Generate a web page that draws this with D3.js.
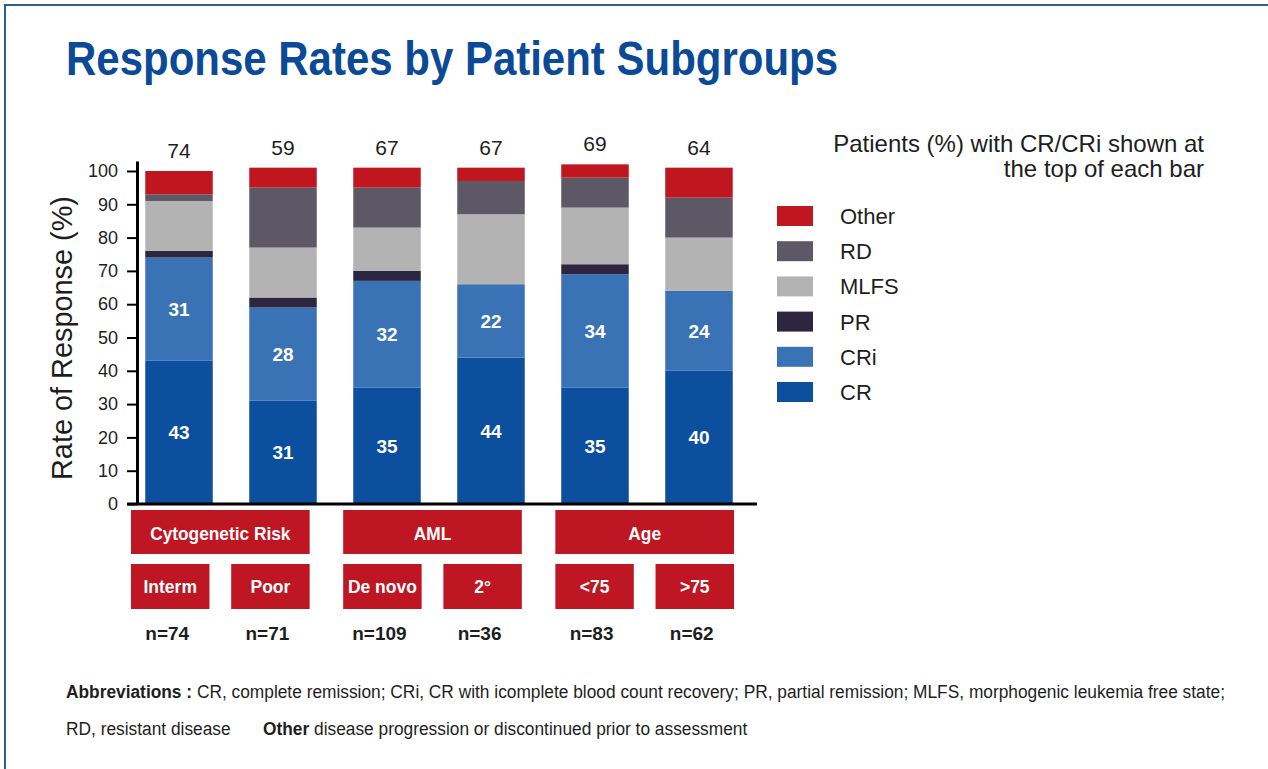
<!DOCTYPE html>
<html>
<head>
<meta charset="utf-8">
<script src="https://cdn.jsdelivr.net/npm/d3@7"></script>
<style>
    body { margin: 0; background: #fff; }
    svg { display: block; font-family: "Liberation Sans", Arial, sans-serif; }
</style>
</head>
<body>
<svg id="chart" width="1268" height="769"></svg>
<script>
// ---- data ----
const groups = ['Cytogenetic Risk', 'AML', 'Age'];
const subgroups = ['Interm', 'Poor', 'De novo', '2°', '<75', '>75'];
const groupOf = ['Cytogenetic Risk', 'Cytogenetic Risk', 'AML', 'AML', 'Age', 'Age'];
const nLabels = ['n=74', 'n=71', 'n=109', 'n=36', 'n=83', 'n=62'];
const crCriTotals = [74, 59, 67, 67, 69, 64];

const responseKeys = ['CR', 'CRi', 'PR', 'MLFS', 'RD', 'Other'];
const crValues = [43, 31, 35, 44, 35, 40];
const criValues = [31, 28, 32, 22, 34, 24];
const prValues = [2, 3, 3, 0, 3, 0];
const mlfsValues = [15, 15, 13, 21, 17, 16];
const rdValues = [2, 18, 12, 10, 9, 12];
const otherValues = [7, 6, 6, 4, 4, 9];
const responseColors = ['#0b4f9e', '#3a72b6', '#2d2641', '#b3b3b3', '#5d5866', '#c0161f'];

const yTicks = [0, 10, 20, 30, 40, 50, 60, 70, 80, 90, 100];
const legendKeys = ['Other', 'RD', 'MLFS', 'PR', 'CRi', 'CR'];
const noteLines = ['Patients (%) with CR/CRi shown at', 'the top of each bar'];

// ---- setup ----
const svg = d3.select('#chart');
const boxRed = '#be1622';
const ink = '#1e1e1e';

// frame lines (top + left only)
svg.append('line').attr('x1', 4).attr('x2', 1268).attr('y1', 5).attr('y2', 5)
    .attr('stroke', '#2c5f8c').attr('stroke-width', 2);
svg.append('line').attr('x1', 5).attr('x2', 5).attr('y1', 4).attr('y2', 769)
    .attr('stroke', '#2c5f8c').attr('stroke-width', 2);

svg.append('text')
    .attr('x', 66).attr('y', 75)
    .attr('fill', '#0b4a96')
    .attr('font-size', 48).attr('font-weight', 'bold')
    .attr('textLength', 772).attr('lengthAdjust', 'spacingAndGlyphs')
    .text('Response Rates by Patient Subgroups');

const rows = subgroups.map((s, i) => ({
    sub: s,
    CR: crValues[i],
    CRi: criValues[i],
    PR: prValues[i],
    MLFS: mlfsValues[i],
    RD: rdValues[i],
    Other: otherValues[i],
}));
const stacked = d3.stack().keys(responseKeys)(rows);
const color = d3.scaleOrdinal(responseKeys, responseColors);

const y = d3.scaleLinear().domain([0, 103]).range([504, 161]);

// bar positions: group band + point inside the group
const xBarGroup = d3.scaleBand(groups, [145, 733]).paddingInner(0.173);
const xBarInner = d3.scalePoint([0, 1], [0, xBarGroup.bandwidth()]).padding(0.327);
const barWidth = 67.5;
const barCenter = i => xBarGroup(groupOf[i]) + xBarInner(i % 2);

// label boxes
const xBox = d3.scaleBand(groups, [131, 734]).paddingInner(0.158);
const xBoxInner = d3.scaleBand([0, 1], [0, xBox.bandwidth()]).paddingInner(0.217);
const boxLeft = i => xBox(groupOf[i]) + xBoxInner(i % 2);

// ---- bars ----
const layers = svg.append('g')
    .selectAll('g')
    .data(stacked)
    .join('g')
    .attr('fill', d => color(d.key));

layers.selectAll('rect')
    .data(d => d)
    .join('rect')
    .attr('x', (d, i) => barCenter(i) - barWidth / 2)
    .attr('y', d => y(d[1]))
    .attr('width', barWidth)
    .attr('height', d => y(d[0]) - y(d[1]));

// white value labels inside CR and CRi
stacked.filter(s => s.key === 'CR' || s.key === 'CRi').forEach(s => {
    svg.append('g')
        .selectAll('text')
        .data(s)
        .join('text')
        .attr('x', (d, i) => barCenter(i))
        .attr('y', d => y((d[0] + d[1]) / 2))
        .attr('dy', '0.36em')
        .attr('text-anchor', 'middle')
        .attr('fill', '#fff')
        .attr('font-size', 19).attr('font-weight', 'bold')
        .text(d => d.data[s.key]);
});

// CR/CRi totals above bars
const topOf = stacked[stacked.length - 1];
svg.append('g')
    .selectAll('text')
    .data(crCriTotals)
    .join('text')
    .attr('x', (d, i) => barCenter(i))
    .attr('y', (d, i) => y(topOf[i][1]) - 13)
    .attr('text-anchor', 'middle')
    .attr('fill', ink)
    .attr('font-size', 21)
    .text(d => d);

// ---- axes ----
const yAxis = svg.append('g')
    .attr('transform', 'translate(137, 0)')
    .call(d3.axisLeft(y).tickValues(yTicks).tickSize(10).tickSizeOuter(0).tickPadding(9));
yAxis.select('.domain').attr('stroke', '#000').attr('stroke-width', 3);
yAxis.selectAll('.tick line').attr('stroke', '#000').attr('stroke-width', 2);
yAxis.selectAll('.tick text')
    .attr('font-size', 18)
    .attr('font-family', '"Liberation Sans", Arial, sans-serif')
    .attr('fill', ink);

svg.append('line')
    .attr('x1', 127).attr('x2', 757)
    .attr('y1', y(0)).attr('y2', y(0))
    .attr('stroke', '#000').attr('stroke-width', 3);

svg.append('text')
    .attr('transform', 'translate(72, 338) rotate(-90)')
    .attr('text-anchor', 'middle')
    .attr('fill', ink)
    .attr('font-size', 29)
    .attr('textLength', 284).attr('lengthAdjust', 'spacingAndGlyphs')
    .text('Rate of Response (%)');

// ---- category boxes ----
const condense = (sel, k) => sel.each(function () {
    const w = this.getComputedTextLength();
    d3.select(this).attr('textLength', w * k).attr('lengthAdjust', 'spacingAndGlyphs');
});

const groupBoxes = svg.append('g')
    .selectAll('g')
    .data(groups)
    .join('g')
    .attr('transform', d => `translate(${xBox(d)}, 510)`);
groupBoxes.append('rect')
    .attr('width', xBox.bandwidth()).attr('height', 44)
    .attr('fill', boxRed);
groupBoxes.append('text')
    .attr('x', xBox.bandwidth() / 2).attr('y', 30)
    .attr('text-anchor', 'middle')
    .attr('fill', '#fff')
    .attr('font-size', 19).attr('font-weight', 'bold')
    .text(d => d)
    .call(condense, 0.91);

const subBoxes = svg.append('g')
    .selectAll('g')
    .data(subgroups)
    .join('g')
    .attr('transform', (d, i) => `translate(${boxLeft(i)}, 564)`);
subBoxes.append('rect')
    .attr('width', xBoxInner.bandwidth()).attr('height', 45)
    .attr('fill', boxRed);
subBoxes.append('text')
    .attr('x', xBoxInner.bandwidth() / 2).attr('y', 29)
    .attr('text-anchor', 'middle')
    .attr('fill', '#fff')
    .attr('font-size', 19).attr('font-weight', 'bold')
    .text(d => d)
    .call(condense, 0.92);

svg.append('g')
    .selectAll('text')
    .data(nLabels)
    .join('text')
    .attr('x', (d, i) => boxLeft(i) + xBoxInner.bandwidth() / 2 - 3)
    .attr('y', 640)
    .attr('text-anchor', 'middle')
    .attr('fill', ink)
    .attr('font-size', 19).attr('font-weight', 'bold')
    .text(d => d);

// ---- legend ----
const legendY = d3.scalePoint(legendKeys, [206, 382]);
const legend = svg.append('g')
    .selectAll('g')
    .data(legendKeys)
    .join('g')
    .attr('transform', d => `translate(777, ${legendY(d)})`);
legend.append('rect')
    .attr('width', 36).attr('height', 20)
    .attr('fill', d => color(d));
legend.append('text')
    .attr('x', 63).attr('y', 18)
    .attr('fill', ink)
    .attr('font-size', 22)
    .text(d => d);

svg.append('g')
    .selectAll('text')
    .data(noteLines)
    .join('text')
    .attr('x', 1204)
    .attr('y', (d, i) => 152 + i * 25)
    .attr('text-anchor', 'end')
    .attr('fill', ink)
    .attr('font-size', 24)
    .text(d => d);

// ---- footnote ----
const foot1 = svg.append('text')
    .attr('x', 66).attr('y', 698)
    .attr('fill', ink).attr('font-size', 18);
foot1.append('tspan').attr('font-weight', 'bold').text('Abbreviations : ');
foot1.append('tspan').text('CR, complete remission; CRi, CR with icomplete blood count recovery; PR, partial remission; MLFS, morphogenic leukemia free state;');
const k = 1159 / foot1.node().getComputedTextLength();
foot1.attr('textLength', 1159).attr('lengthAdjust', 'spacingAndGlyphs');

svg.append('text')
    .attr('x', 66).attr('y', 735)
    .attr('fill', ink).attr('font-size', 18)
    .text('RD, resistant disease')
    .call(condense, k);

const foot2 = svg.append('text')
    .attr('x', 263).attr('y', 735)
    .attr('fill', ink).attr('font-size', 18);
foot2.append('tspan').attr('font-weight', 'bold').text('Other');
foot2.append('tspan').text(' disease progression or discontinued prior to assessment');
foot2.call(condense, k);
</script>
</body>
</html>
